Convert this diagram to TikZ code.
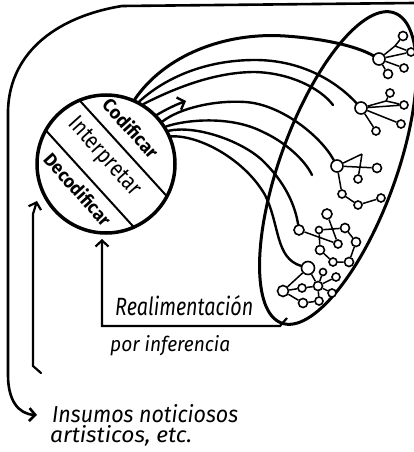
\documentclass[tikz,border=0pt]{standalone}
\usepackage{fontspec}
\usepackage{graphicx}
\setmainfont{Fira Sans}
\usetikzlibrary{arrows.meta}
\begin{document}
\begin{tikzpicture}[x=1pt,y=-1pt,
  ln/.style={line width=2.4pt,line cap=round},
  nd/.style={circle,draw,line width=1.6pt,fill=white,inner sep=0pt,minimum size=#1},
  ed/.style={line width=1.5pt},
  arr/.style={-{Straight Barb[length=6pt,width=13pt]}},
  lbl/.style={inner sep=0pt,anchor=base west}]
\useasboundingbox (0,0) rectangle (414,452);
% outer loop
\coordinate (o1) at (414,3);
\coordinate (o2) at (122,6);
\coordinate (o3) at (8,110);
\coordinate (o4) at (8,375);
\coordinate (o5) at (37,415);
\draw[ln,line width=2.6pt,arr] (o1) -- (o2) .. controls (60,16) and (10,50) .. (o3) -- (o4) .. controls (8,400) and (18,414) .. (o5);
% inner arrow
\coordinate (i1) at (41,373);
\coordinate (i2) at (33,366);
\coordinate (i3) at (33,214);
\coordinate (i4) at (37,201);
\draw[ln,line width=2.2pt,arr] (i1) -- (i2) -- (i3) -- (i4);
% circle
\node[circle,draw,line width=3.5pt,minimum size=138pt,inner sep=0pt] (C) at (106,164) {};
\coordinate (s1a) at (79.5,100.3); \coordinate (s1b) at (166.9,196.3);
\coordinate (s2a) at (45.8,130.3); \coordinate (s2b) at (133.8,227.1);
\draw[line width=2pt] (s1a) -- (s1b);
\draw[line width=2pt] (s2a) -- (s2b);
\node[rotate=-48,inner sep=0pt] (tcod) at (131,128) {\resizebox{73pt}{15pt}{\bfseries Codificar}};
\node[rotate=-48,inner sep=0pt] (tint) at (104,157) {\resizebox{97pt}{16pt}{Interpretar}};
\node[rotate=-48,inner sep=0pt] (tdec) at (78,189) {\resizebox{90pt}{15pt}{\bfseries Decodificar}};
% feedback
\coordinate (f1) at (287,318);
\coordinate (f2) at (280,326);
\coordinate (f3) at (102,326);
\coordinate (f4) at (102,239);
\draw[ln,line width=2.2pt,line cap=butt,arr] (f1) -- (f2) -- (f3) -- (f4);
% oval
\draw[line width=3pt,rotate around={70:(338,168)}] (338,168) ellipse [x radius=165,y radius=58];
% clusters
\node[nd=12pt] (h1) at (379,59) {};
\node[nd=9pt] (a1) at (403,36) {};
\node[nd=8pt] (b1) at (411,52) {};
\node[nd=8pt] (c1) at (404,68) {};
\node[nd=9pt] (d1) at (388,74) {};
\coordinate (j1) at (395,46);
\node[nd=12pt] (h2) at (361,108) {};
\node[nd=8pt] (a2) at (390,93) {};
\node[nd=8pt] (b2) at (404,105) {};
\node[nd=8pt] (c2) at (401,124) {};
\node[nd=8pt] (d2) at (376,131) {};
\coordinate (j2) at (386,101);
\node[nd=12pt] (h3) at (337,166) {};
\node[nd=9pt] (a3) at (377,168) {};
\coordinate (t3) at (362,154);
\node[nd=8pt] (b3) at (358,179) {};
\node[nd=8pt] (c3) at (342,194) {};
\node[nd=8pt] (d3) at (358,205) {};
\node[nd=8pt] (e3) at (381,198) {};
\node[nd=10pt] (a4) at (299,230) {};
\node[nd=10pt] (b4) at (327,214) {};
\node[nd=7pt] (c4) at (319,230) {};
\node[nd=9pt] (d4) at (345,228) {};
\node[nd=9pt] (e4) at (356,242) {};
\node[nd=8pt] (f4n) at (338,244) {};
\node[nd=9pt] (g4) at (320,250) {};
\node[nd=8pt] (h4) at (333,262) {};
\node[nd=9pt] (i4) at (349,262) {};
\node[nd=13pt] (a5) at (308,268) {};
\node[nd=11pt] (b5) at (283,291) {};
\node[nd=8pt] (c5) at (302,288) {};
\node[nd=9pt] (d5) at (303,303) {};
\node[nd=9pt] (e5) at (318,286) {};
\node[nd=7pt] (f5) at (323,272) {};
\node[nd=8pt] (g5) at (336,277) {};
\node[nd=8pt] (h5) at (332,293) {};
\node[nd=8pt] (i5) at (319,301) {};
\draw[ed] (h1) -- (j1) (j1) -- (a1) (j1) -- (b1) (h1) -- (b1) (h1) -- (c1) (h1) -- (d1);
\draw[ed] (h2) -- (j2) (j2) -- (a2) (j2) -- (b2) (h2) -- (b2) (h2) -- (c2) (h2) -- (d2);
\draw[ed] (h3) -- (a3) (h3) -- (t3) (t3) -- (b3) (h3) -- (c3) (c3) -- (d3) (d3) -- (e3);
\draw[ed] (a4) -- (f4n) (b4) -- (f4n) (c4) -- (d4) (d4) -- (e4) (e4) -- (i4) (i4) -- (h4) (h4) -- (g4) (g4) -- (c4);
\draw[ed] (a5) -- (b5) (b5) -- (d5) (b5) -- (c5) (a5) -- (e5) (c5) -- (e5) (e5) -- (f5) (e5) -- (g5) (e5) -- (h5) (e5) -- (i5) (d5) -- (i5);
% curves
\coordinate (cE) at (333,105);
\coordinate (eE) at (312,175);
\coordinate (aT) at (186,101);
\draw[ln,line width=3pt] (C.66) .. controls (165,55) and (225,32) .. (285,36) .. controls (330,39) and (360,48) .. (h1);
\draw[ln] (C.62) .. controls (165,78) and (205,60) .. (255,60) .. controls (300,60) and (335,80) .. (h2);
\draw[ln] (C.58) .. controls (175,88) and (215,72) .. (255,72) .. controls (290,73) and (320,88) .. (cE);
\draw[ln,arr] (C.44) .. controls (165,110) and (175,105) .. (aT);
\draw[ln] (C.37) .. controls (180,108) and (215,100) .. (245,102) .. controls (280,104) and (320,135) .. (h3);
\draw[ln] (C.32) .. controls (185,120) and (230,115) .. (263,132) .. controls (285,142) and (305,160) .. (eE);
\draw[ln] (C.28) .. controls (195,125) and (240,140) .. (262,160) .. controls (285,182) and (295,205) .. (a4);
\draw[ln] (C.23) .. controls (200,135) and (245,160) .. (265,195) .. controls (280,225) and (275,258) .. (a5);
% labels
\node[lbl] (lr) at (115,315) {\resizebox{138pt}{20pt}{\itshape Realimentación}};
\node[lbl] (lp) at (110,351) {\resizebox{120pt}{16pt}{\itshape por inferencia}};
\node[lbl] (li) at (52,422) {\resizebox{186pt}{18pt}{\itshape Insumos noticiosos}};
\node[lbl] (la) at (50,442) {\resizebox{142pt}{17pt}{\itshape artisticos, etc.}};
\end{tikzpicture}
\end{document}
